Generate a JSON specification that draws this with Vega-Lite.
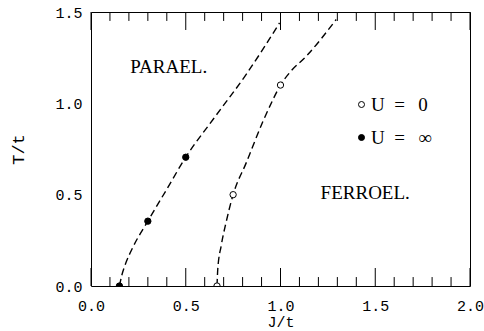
{
  "$schema": "https://vega.github.io/schema/vega-lite/v6.json",
  "width": 379,
  "height": 274,
  "autosize": {"type": "none"},
  "padding": {"left": 91, "top": 12, "right": 14, "bottom": 45},
  "background": "white",
  "config": {
    "view": {"stroke": "black", "strokeWidth": 1},
    "axis": {
      "domain": false, "ticks": false, "grid": false,
      "labelFont": "Liberation Mono", "labelFontSize": 15, "labelColor": "black",
      "titleFont": "Liberation Mono", "titleFontWeight": "normal", "titleColor": "black",
      "labelFlush": false, "labelOverlap": false
    }
  },
  "datasets": {
    "curves": [
      {"U": "∞", "J": 0.15, "T": 0.0},
      {"U": "∞", "J": 0.163, "T": 0.06},
      {"U": "∞", "J": 0.18, "T": 0.115},
      {"U": "∞", "J": 0.22, "T": 0.21},
      {"U": "∞", "J": 0.3, "T": 0.355},
      {"U": "∞", "J": 0.4, "T": 0.53},
      {"U": "∞", "J": 0.5, "T": 0.705},
      {"U": "∞", "J": 0.65, "T": 0.92},
      {"U": "∞", "J": 0.82, "T": 1.16},
      {"U": "∞", "J": 0.995, "T": 1.44},
      {"U": "0", "J": 0.665, "T": 0.0},
      {"U": "0", "J": 0.669, "T": 0.093},
      {"U": "0", "J": 0.687, "T": 0.22},
      {"U": "0", "J": 0.713, "T": 0.349},
      {"U": "0", "J": 0.75, "T": 0.5},
      {"U": "0", "J": 0.819, "T": 0.674},
      {"U": "0", "J": 0.907, "T": 0.9},
      {"U": "0", "J": 0.96, "T": 1.02},
      {"U": "0", "J": 1.0, "T": 1.1},
      {"U": "0", "J": 1.05, "T": 1.17},
      {"U": "0", "J": 1.136, "T": 1.258},
      {"U": "0", "J": 1.294, "T": 1.459}
    ],
    "points": [
      {"U": "∞", "J": 0.15, "T": 0.0},
      {"U": "∞", "J": 0.3, "T": 0.355},
      {"U": "∞", "J": 0.5, "T": 0.705},
      {"U": "0", "J": 0.665, "T": 0.0},
      {"U": "0", "J": 0.75, "T": 0.5},
      {"U": "0", "J": 1.0, "T": 1.1}
    ],
    "labels": [
      {"J": 0.41, "T": 1.2, "text": "PARAEL."},
      {"J": 1.447, "T": 0.51, "text": "FERROEL."}
    ],
    "xticks": [
      {"J": 0.0, "kind": "major"}, {"J": 0.1, "kind": "minor"}, {"J": 0.2, "kind": "minor"}, {"J": 0.3, "kind": "minor"}, {"J": 0.4, "kind": "minor"},
      {"J": 0.5, "kind": "major"}, {"J": 0.6, "kind": "minor"}, {"J": 0.7, "kind": "minor"}, {"J": 0.8, "kind": "minor"}, {"J": 0.9, "kind": "minor"},
      {"J": 1.0, "kind": "major"}, {"J": 1.1, "kind": "minor"}, {"J": 1.2, "kind": "minor"}, {"J": 1.3, "kind": "minor"}, {"J": 1.4, "kind": "minor"},
      {"J": 1.5, "kind": "major"}, {"J": 1.6, "kind": "minor"}, {"J": 1.7, "kind": "minor"}, {"J": 1.8, "kind": "minor"}, {"J": 1.9, "kind": "minor"},
      {"J": 2.0, "kind": "major"}
    ]
  },
  "layer": [
    {
      "data": {"name": "curves"},
      "mark": {"type": "line", "color": "black", "strokeWidth": 1.4, "strokeDash": [7, 4], "interpolate": "monotone", "clip": true},
      "encoding": {
        "x": {
          "field": "J", "type": "quantitative",
          "scale": {"domain": [0, 2], "nice": false, "zero": false},
          "axis": {
            "orient": "bottom", "title": "J/t", "titleFontSize": 15, "titlePadding": 1,
            "values": [0, 0.5, 1, 1.5, 2], "format": ".1f", "labelPadding": 12
          }
        },
        "y": {
          "field": "T", "type": "quantitative",
          "scale": {"domain": [0, 1.5], "nice": false, "zero": false},
          "axis": {
            "orient": "left", "title": "T/t", "titleFontSize": 17, "titlePadding": 27,
            "values": [0, 0.5, 1, 1.5], "format": ".1f", "labelPadding": 9
          }
        },
        "detail": {"field": "U", "type": "nominal"}
      }
    },
    {
      "data": {"name": "xticks"},
      "transform": [{"filter": "datum.kind == 'major'"}],
      "mark": {"type": "rule", "color": "black", "strokeWidth": 1, "opacity": 1},
      "encoding": {
        "x": {"field": "J", "type": "quantitative", "axis": null},
        "y": {"datum": 0, "type": "quantitative", "axis": null},
        "y2": {"datum": 0.0985}
      }
    },
    {
      "data": {"name": "xticks"},
      "transform": [{"filter": "datum.kind == 'minor'"}],
      "mark": {"type": "rule", "color": "black", "strokeWidth": 1, "opacity": 1},
      "encoding": {
        "x": {"field": "J", "type": "quantitative", "axis": null},
        "y": {"datum": 0, "type": "quantitative", "axis": null},
        "y2": {"datum": 0.049}
      }
    },
    {
      "data": {"name": "xticks"},
      "transform": [{"filter": "datum.kind == 'major'"}],
      "mark": {"type": "rule", "color": "black", "strokeWidth": 1, "opacity": 1},
      "encoding": {
        "x": {"field": "J", "type": "quantitative", "axis": null},
        "y": {"datum": 1.5, "type": "quantitative", "axis": null},
        "y2": {"datum": 1.4015}
      }
    },
    {
      "data": {"name": "xticks"},
      "transform": [{"filter": "datum.kind == 'minor'"}],
      "mark": {"type": "rule", "color": "black", "strokeWidth": 1, "opacity": 1},
      "encoding": {
        "x": {"field": "J", "type": "quantitative", "axis": null},
        "y": {"datum": 1.5, "type": "quantitative", "axis": null},
        "y2": {"datum": 1.451}
      }
    },
    {
      "data": {"name": "points"},
      "mark": {"type": "point", "shape": "circle", "filled": true, "stroke": "black", "strokeWidth": 1, "size": 40, "opacity": 1, "clip": true},
      "encoding": {
        "x": {"field": "J", "type": "quantitative", "axis": null},
        "y": {"field": "T", "type": "quantitative", "axis": null},
        "fill": {
          "field": "U", "type": "nominal",
          "scale": {"domain": ["0", "∞"], "range": ["white", "black"]},
          "legend": {
            "title": null, "orient": "none", "legendX": 261, "legendY": 83, "padding": 0,
            "symbolType": "circle", "symbolSize": 36, "symbolStrokeColor": "black", "symbolStrokeWidth": 1,
            "labelFont": "Liberation Serif", "labelFontSize": 19, "labelColor": "black",
            "labelOffset": 0, "rowPadding": 13,
            "labelExpr": "'U\u2002=\u2002\u2009' + datum.label"
          }
        }
      }
    },
    {
      "data": {"name": "labels"},
      "mark": {"type": "text", "font": "Liberation Serif", "fontSize": 19, "color": "black", "align": "center", "baseline": "middle"},
      "encoding": {
        "x": {"field": "J", "type": "quantitative", "axis": null},
        "y": {"field": "T", "type": "quantitative", "axis": null},
        "text": {"field": "text", "type": "nominal"}
      }
    }
  ],
  "resolve": {"axis": {"x": "independent", "y": "independent"}}
}
